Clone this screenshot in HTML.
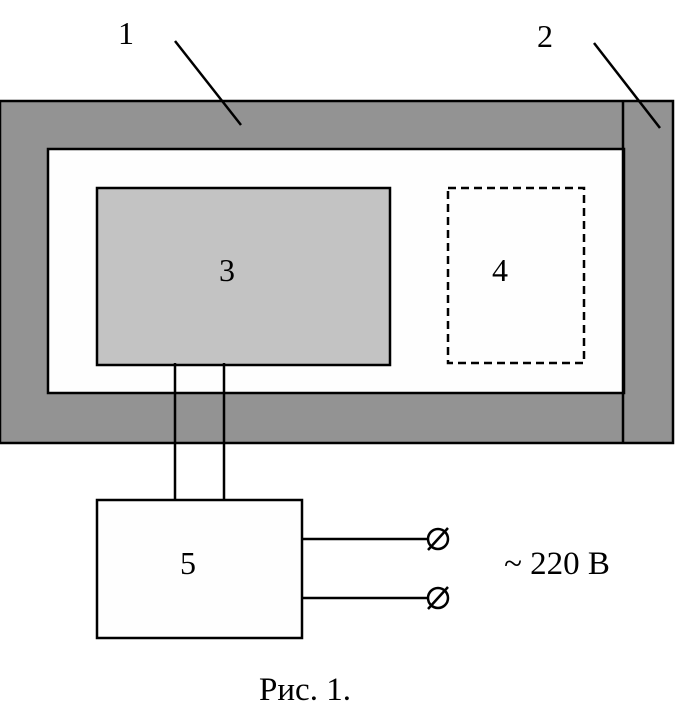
<!DOCTYPE html>
<html><head><meta charset="utf-8"><style>
html,body{margin:0;padding:0;background:#fff;}
svg{display:block;}
text{font-family:"Liberation Serif",serif;fill:#000;}
</style></head><body>
<svg width="693" height="721" viewBox="0 0 693 721" xmlns="http://www.w3.org/2000/svg">
<rect x="0" y="101" width="673" height="342" fill="#939393" stroke="#000" stroke-width="2.5"/>
<rect x="48" y="149" width="576" height="244" fill="#fefefe" stroke="#000" stroke-width="2.5"/>
<line x1="623" y1="101" x2="623" y2="443" stroke="#000" stroke-width="2.5"/>
<rect x="97" y="188" width="293" height="177" fill="#c3c3c3" stroke="#000" stroke-width="2.5"/>
<rect x="448" y="188" width="136" height="175" fill="none" stroke="#000" stroke-width="2.5" stroke-dasharray="8,5"/>
<line x1="175" y1="363" x2="175" y2="500" stroke="#000" stroke-width="2.5"/>
<line x1="224" y1="363" x2="224" y2="500" stroke="#000" stroke-width="2.5"/>
<rect x="97" y="500" width="205" height="138" fill="#fefefe" stroke="#000" stroke-width="2.5"/>
<line x1="302" y1="539" x2="428" y2="539" stroke="#000" stroke-width="2.5"/>
<line x1="302" y1="598" x2="428" y2="598" stroke="#000" stroke-width="2.5"/>
<circle cx="438" cy="539" r="10" fill="none" stroke="#000" stroke-width="2.5"/>
<circle cx="438" cy="598" r="10" fill="none" stroke="#000" stroke-width="2.5"/>
<line x1="428" y1="550" x2="448" y2="528" stroke="#000" stroke-width="2.5"/>
<line x1="428" y1="609" x2="448" y2="587" stroke="#000" stroke-width="2.5"/>
<line x1="175" y1="41" x2="241" y2="125" stroke="#000" stroke-width="2.5"/>
<line x1="594" y1="43" x2="660" y2="128" stroke="#000" stroke-width="2.5"/>
<text x="126" y="44" font-size="32" text-anchor="middle">1</text>
<text x="545" y="47" font-size="32" text-anchor="middle">2</text>
<text x="227" y="281" font-size="32" text-anchor="middle">3</text>
<text x="500" y="281" font-size="32" text-anchor="middle">4</text>
<text x="188" y="574" font-size="32" text-anchor="middle">5</text>
<text x="557" y="574" font-size="33" text-anchor="middle">~ 220 В</text>
<text x="305" y="700" font-size="33" text-anchor="middle">Рис. 1.</text>
</svg>
</body></html>
